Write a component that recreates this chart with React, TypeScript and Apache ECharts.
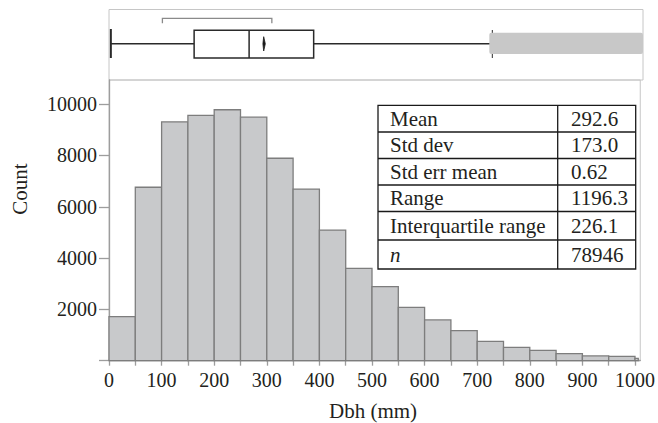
import React, { useEffect, useRef } from "react";
import * as echarts from "echarts";

// ---- Data ----
const binEdges = [0, 50, 100, 150, 200, 250, 300, 350, 400, 450, 500, 550, 600, 650, 700, 750, 800, 850, 900, 950, 1000, 1050];
const binCounts = [1720, 6760, 9310, 9560, 9780, 9490, 7890, 6690, 5090, 3600, 2890, 2080, 1590, 1170, 750, 520, 400, 275, 185, 170, 90];
const xTickLabels = [0, 100, 200, 300, 400, 500, 600, 700, 800, 900, 1000];
const xTickMarks = [0, 50, 100, 150, 200, 250, 300, 350, 400, 450, 500, 550, 600, 650, 700, 750, 800, 850, 900, 950, 1000];
const yTickLabels = [2000, 4000, 6000, 8000, 10000];
const yTickMarks = [0, 2000, 4000, 6000, 8000, 10000];

const whiskerLow = 3.5;
const quartile1 = 161;
const medianVal = 265;
const quartile3 = 387.1;
const whiskerHigh = 725;
const meanVal = 292.6;
const shortestHalf = [101, 308];
const dataMax = 1199.8;

const statNames = ["Mean", "Std dev", "Std err mean", "Range", "Interquartile range", "n"];
const statValues = ["292.6", "173.0", "0.62", "1196.3", "226.1", "78946"];

const FONT = "'Liberation Serif', 'Times New Roman', serif";
const TXT = "#231f20";

export default function App() {
  const ref = useRef<HTMLDivElement>(null);

  useEffect(() => {
    if (!ref.current) return;
    const chart = echarts.init(ref.current, null, { renderer: "svg" });

    const histData = binCounts.map((c, i) => [binEdges[i], binEdges[i + 1], c]);

    const renderBar = (params: any, api: any) => {
      const lo = api.value(0);
      const hi = api.value(1);
      const c = api.value(2);
      const p0 = api.coord([lo, c]);
      const p1 = api.coord([hi, 0]);
      const cs = params.coordSys;
      const right = Math.min(p1[0], cs.x + cs.width - 2);
      return {
        type: "rect",
        shape: { x: p0[0], y: p0[1], width: right - p0[0], height: p1[1] - p0[1] },
        style: { fill: "#c8c9cb", stroke: "#7d7d7d", lineWidth: 1.3 },
      };
    };

    const renderBox = (params: any, api: any) => {
      const xc = (v: number) => api.coord([v, 0])[0];
      const yc = (v: number) => api.coord([0, v])[1];
      const cs = params.coordSys;
      const wl = xc(api.value(0));
      const q1 = xc(api.value(1));
      const md = xc(api.value(2));
      const q3 = xc(api.value(3));
      const wh = xc(api.value(4));
      const mn = xc(api.value(5));
      const sl = xc(api.value(6));
      const sh = xc(api.value(7));
      const mx = Math.min(xc(api.value(8)), cs.x + cs.width);
      const ls = { stroke: "#2a2a2a", lineWidth: 1.5, fill: "none" };
      const ym = yc(34.2);
      return {
        type: "group",
        children: [
          { type: "polyline", shape: { points: [[sl, yc(13.8)], [sl, yc(8.8)], [sh, yc(8.8)], [sh, yc(13.8)]] }, style: { stroke: "#8a8a8a", lineWidth: 1.3, fill: "none" } },
          { type: "line", shape: { x1: wl, y1: ym, x2: q1, y2: ym }, style: ls },
          { type: "line", shape: { x1: wl, y1: yc(19.5), x2: wl, y2: yc(48.5) }, style: { ...ls, lineWidth: 2 } },
          { type: "line", shape: { x1: q3, y1: ym, x2: wh, y2: ym }, style: ls },
          { type: "line", shape: { x1: wh, y1: yc(20.5), x2: wh, y2: yc(48.5) }, style: { ...ls, lineWidth: 1 } },
          { type: "rect", shape: { x: q1, y: yc(20.8), width: q3 - q1, height: yc(48.5) - yc(20.8) }, style: { ...ls, fill: "#fff" } },
          { type: "line", shape: { x1: md, y1: yc(20.8), x2: md, y2: yc(48.5) }, style: ls },
          { type: "polygon", shape: { points: [[mn, yc(27.2)], [mn + 1.6, yc(34.3)], [mn, yc(41.5)], [mn - 0.8, yc(34.3)]] }, style: { fill: "#1a1a1a", stroke: "#1a1a1a", lineWidth: 0.8 } },
          { type: "rect", shape: { x: wh - 3, y: yc(23.2), width: mx - (wh - 3), height: yc(44.5) - yc(23.2), r: 2 }, style: { fill: "#c8c8c8" } },
        ],
      };
    };

    // Table
    const tblX = 378;
    const tblR = 635.7;
    const colX = 557.7;
    const rowYs = [105.3, 132, 158.5, 185, 211.5, 240, 269];
    const tableEls: any[] = [
      { type: "rect", shape: { x: tblX, y: rowYs[0], width: tblR - tblX, height: rowYs[6] - rowYs[0] }, style: { fill: "#fff", stroke: "#1a1a1a", lineWidth: 1.3 } },
      { type: "line", shape: { x1: colX, y1: rowYs[0], x2: colX, y2: rowYs[6] }, style: { stroke: "#1a1a1a", lineWidth: 1.3 } },
    ];
    for (let i = 1; i < 6; i++) {
      tableEls.push({ type: "line", shape: { x1: tblX, y1: rowYs[i], x2: tblR, y2: rowYs[i] }, style: { stroke: "#1a1a1a", lineWidth: 1.3 } });
    }
    statNames.forEach((name, i) => {
      const cy = (rowYs[i] + rowYs[i + 1]) / 2;
      tableEls.push({
        type: "text",
        x: 390,
        y: cy,
        style: { text: name, font: `${name === "n" ? "italic " : ""}21px ${FONT}`, fill: TXT, align: "left", verticalAlign: "middle" },
      });
      tableEls.push({
        type: "text",
        x: 571,
        y: cy,
        style: { text: statValues[i], font: `21px ${FONT}`, fill: TXT, align: "left", verticalAlign: "middle" },
      });
    });

    const fmt = (v: number) => String(v);

    const option: any = {
      animation: false,
      backgroundColor: "#fff",
      grid: [
        { left: 109, right: 15, top: 9.5, height: 70.5, show: true, borderColor: "#c6c6c6", borderWidth: 1, backgroundColor: "transparent" },
        { left: 109, right: 15, top: 80, bottom: 62.3, show: true, borderColor: "#c6c6c6", borderWidth: 1, backgroundColor: "transparent" },
      ],
      xAxis: [
        { type: "value", gridIndex: 0, min: 0, max: 1010, show: false },
        {
          type: "value",
          gridIndex: 1,
          min: 0,
          max: 1010,
          splitLine: { show: false },
          axisLine: { show: true, lineStyle: { color: "#9d9d9d", width: 1.3 } },
          axisTick: { show: true, customValues: xTickMarks, length: 5, lineStyle: { color: "#9d9d9d", width: 1.3 } },
          axisLabel: { customValues: xTickLabels, formatter: fmt, margin: 9, fontFamily: FONT, fontSize: 20, color: TXT },
        },
      ],
      yAxis: [
        { type: "value", gridIndex: 0, min: 0, max: 70.5, inverse: true, show: false },
        {
          type: "value",
          gridIndex: 1,
          min: 0,
          max: 10940,
          splitLine: { show: false },
          axisLine: { show: true, lineStyle: { color: "#9d9d9d", width: 1.3 } },
          axisTick: { show: true, customValues: yTickMarks, length: 10, lineStyle: { color: "#9d9d9d", width: 1.3 } },
          axisLabel: { customValues: yTickLabels, formatter: fmt, margin: 12, fontFamily: FONT, fontSize: 20, color: TXT },
        },
      ],
      series: [
        {
          type: "custom",
          xAxisIndex: 1,
          yAxisIndex: 1,
          renderItem: renderBar,
          encode: { x: [0, 1], y: 2 },
          data: histData,
          silent: true,
        },
        {
          type: "custom",
          xAxisIndex: 0,
          yAxisIndex: 0,
          renderItem: renderBox,
          encode: { x: [0, 1, 2, 3, 4, 5, 6, 7] },
          data: [[whiskerLow, quartile1, medianVal, quartile3, whiskerHigh, meanVal, shortestHalf[0], shortestHalf[1], dataMax]],
          silent: true,
        },
      ],
      graphic: [
        ...tableEls,
        { type: "text", x: 19.7, y: 189, rotation: Math.PI / 2, style: { text: "Count", font: `21px ${FONT}`, fill: TXT, align: "center", verticalAlign: "middle" } },
        { type: "text", x: 373, y: 410.5, style: { text: "Dbh (mm)", font: `21px ${FONT}`, fill: TXT, align: "center", verticalAlign: "middle" } },
      ],
    };

    chart.setOption(option);
    return () => chart.dispose();
  }, []);

  return <div ref={ref} style={{ width: 658, height: 423, position: "absolute", left: 0, top: 0 }} />;
}
